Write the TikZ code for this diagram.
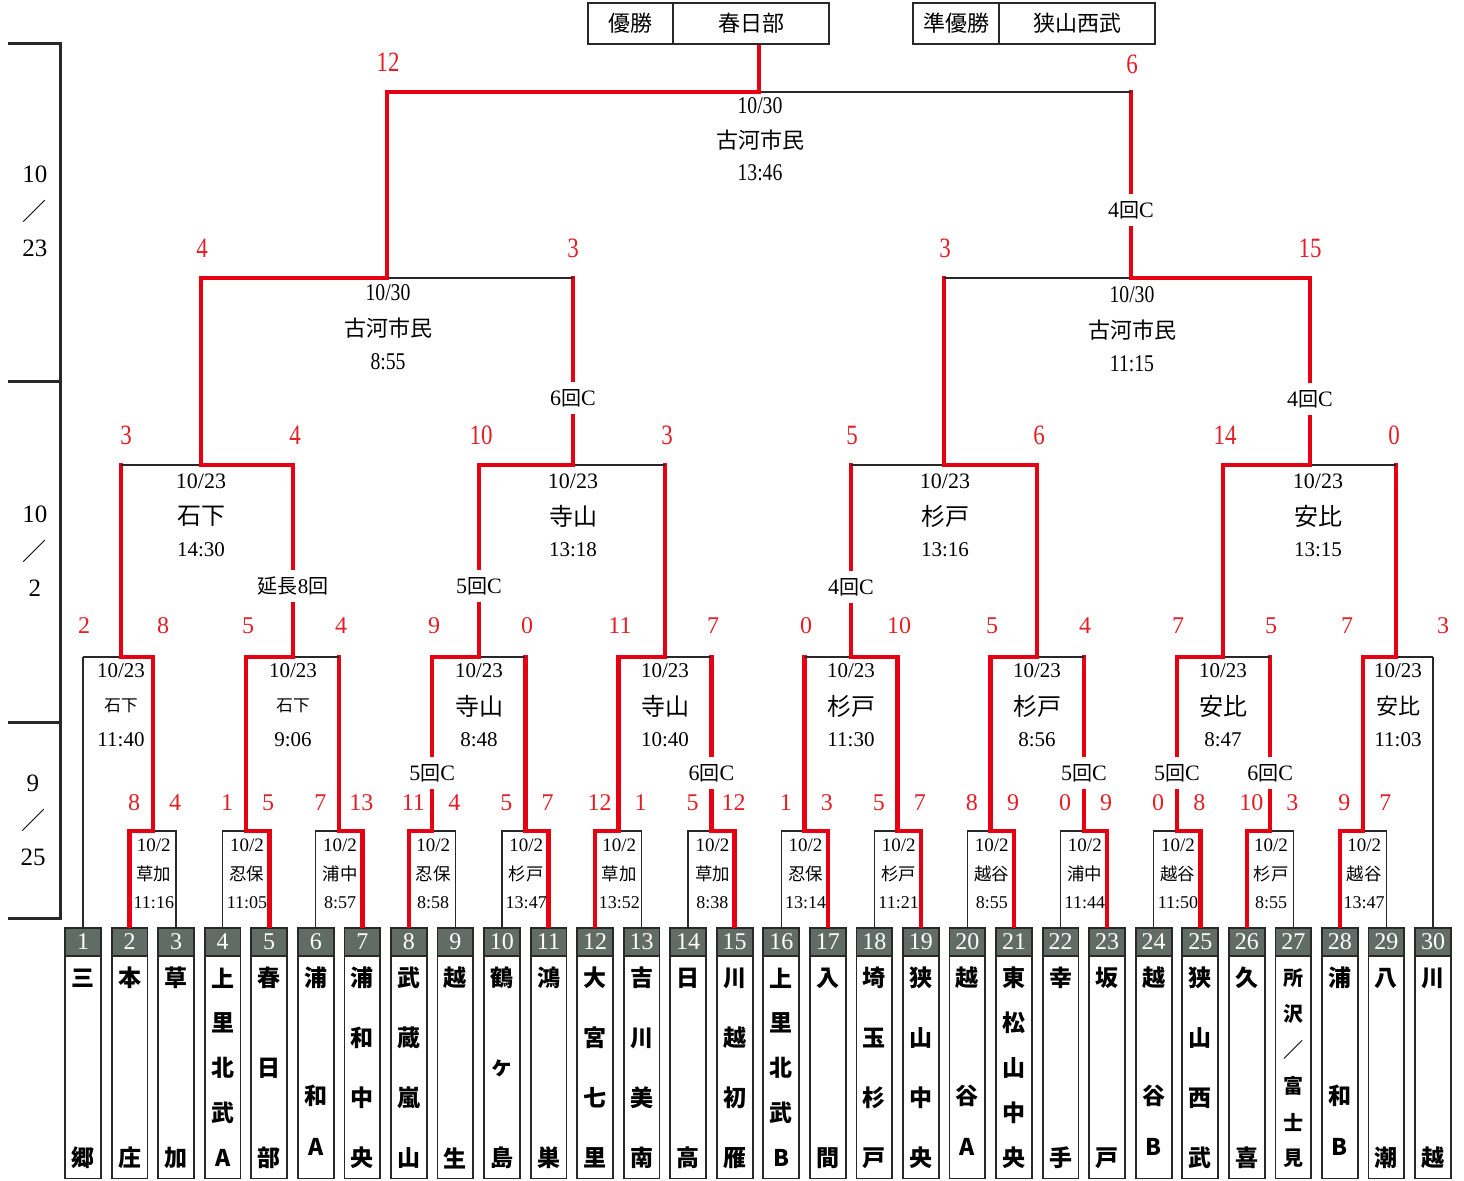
\documentclass[tikz,border=0pt]{standalone}
\usepackage{fontspec}
\setmainfont{Liberation Serif}
\newfontfamily\jp{Noto Sans CJK JP}
\newfontfamily\cond{Liberation Serif}[FakeStretch=0.82]
\definecolor{lred}{RGB}{230,0,18}
\definecolor{sred}{RGB}{228,30,38}
\definecolor{hgray}{RGB}{98,108,103}
\definecolor{bline}{RGB}{40,40,40}
\newcommand\kai{{\jp\fontsize{10}{10}\selectfont 回}}
\begin{document}
\begin{tikzpicture}[x=0.5pt,y=-0.5pt,
  bl/.style={draw=bline, line width=0.7pt},
  wl/.style={draw=lred, line width=2.3pt, line cap=rect, line join=miter},
  tbox/.style={minimum width=17.5pt, minimum height=125pt, inner sep=0pt},
  boxline/.style={draw=bline, line width=0.9pt},
  hnum/.style={text=white, inner sep=0pt, font=\fontsize{12}{12}\selectfont},
  tname/.style={inner sep=0pt, font=\jp\bfseries\fontsize{11.5}{12}\selectfont},
  sc/.style={text=sred, inner sep=0pt, font=\fontsize{12}{12}\selectfont},
  sct/.style={text=sred, inner sep=0pt, font=\cond\fontsize{14}{14}\selectfont},
  dA/.style={inner sep=0pt, font=\fontsize{9.5}{10}\selectfont},
  vA/.style={inner sep=0pt, font=\jp\fontsize{8.7}{9}\selectfont},
  tA/.style={inner sep=0pt, font=\fontsize{9}{9}\selectfont},
  dB/.style={inner sep=0pt, font=\fontsize{10.5}{11}\selectfont},
  dC/.style={inner sep=0pt, font=\cond\fontsize{12}{12}\selectfont},
  vC/.style={inner sep=0pt, font=\jp\fontsize{11}{11}\selectfont},
  gapl/.style={fill=white, inner xsep=1pt, inner ysep=3.5pt, font=\fontsize{11}{11}\selectfont},
  side/.style={inner sep=0pt, font=\fontsize{12.5}{13}\selectfont},
  topb/.style={draw=bline, line width=0.9pt, fill=white, minimum height=20.5pt, inner sep=0pt, font=\jp\fontsize{11}{11}\selectfont}
]
\useasboundingbox (0,0) rectangle (1464,1180);
\fill[white] (0,0) rectangle (1464,1180);

% ---------- left date bracket ----------
\draw[line width=1.5pt, draw=bline] (8,43) -- (60,43) -- (60,918) -- (8,918);
\draw[line width=1.5pt, draw=bline] (8,381) -- (60,381);
\draw[line width=1.5pt, draw=bline] (8,722) -- (60,722);
\node[side] (la1) at (35,174) {10};
\node[side,font=\jp\fontsize{12}{12}\selectfont] (la2) at (34,211) {／};
\node[side] (la3) at (35,248) {23};
\node[side] (lb1) at (35,514) {10};
\node[side,font=\jp\fontsize{12}{12}\selectfont] (lb2) at (34,551) {／};
\node[side] (lb3) at (35,588) {2};
\node[side] (lc1) at (33,783) {9};
\node[side,font=\jp\fontsize{12}{12}\selectfont] (lc2) at (33,820) {／};
\node[side] (lc3) at (33,857) {25};

% ---------- team boxes ----------
\foreach \i in {1,...,30} {
  \pgfmathsetmacro\x{83+(\i-1)*46.552}
  \node[tbox] (t\i) at (\x,1053) {};
  \fill[hgray] (t\i.north west) rectangle ([yshift=-14pt]t\i.north east);
  \draw[boxline] (t\i.north west) rectangle (t\i.south east);
  \draw[boxline] ([yshift=-14pt]t\i.north west) -- ([yshift=-14pt]t\i.north east);
  \node[hnum] (h\i) at ([yshift=-7pt]t\i.north) {\i};
}
\foreach \i/\n/\chars in {1/2/{三,郷}, 2/2/{本,庄}, 3/2/{草,加}, 4/5/{上,里,北,武,A}, 5/3/{春,日,部},
  6/0/{浦,和,A}, 7/4/{浦,和,中,央}, 8/4/{武,蔵,嵐,山}, 9/2/{越,生}, 10/3/{鶴,ヶ,島},
  11/2/{鴻,巣}, 12/4/{大,宮,七,里}, 13/4/{吉,川,美,南}, 14/2/{日,高}, 15/4/{川,越,初,雁},
  16/5/{上,里,北,武,B}, 17/2/{入,間}, 18/4/{埼,玉,杉,戸}, 19/4/{狭,山,中,央}, 20/0/{越,谷,A},
  21/5/{東,松,山,中,央}, 22/2/{幸,手}, 23/2/{坂,戸}, 24/0/{越,谷,B}, 25/4/{狭,山,西,武},
  26/2/{久,喜}, 27/6/{所,沢,／,富,士,見}, 28/0/{浦,和,B}, 29/2/{八,潮}, 30/2/{川,越}} {
  \foreach \c [count=\k] in \chars {
    \pgfmathsetmacro\yy{\n==0 ? (\k==1 ? 978 : (\k==2 ? 1096 : 1147)) : 978+(\k-1)*180/(\n-1)}
    \node[tname] (c\i-\k) at (t\i.north |- 0,\yy) {\ifnum\i=27 \fontsize{10}{10}\selectfont\fi\c};
  }
}

% ---------- round 1 (10/2) ----------
\foreach \a/\w/\sl/\sr/\ven/\tim in {
  2/0/8/4/草加/11:16, 4/1/1/5/忍保/11:05, 6/1/7/13/浦中/8:57, 8/0/11/4/忍保/8:58,
  10/1/5/7/杉戸/13:47, 12/0/12/1/草加/13:52, 14/1/5/12/草加/8:38, 16/1/1/3/忍保/13:14,
  18/1/5/7/杉戸/11:21, 20/1/8/9/越谷/8:55, 22/1/0/9/浦中/11:44, 24/1/0/8/越谷/11:50,
  26/0/10/3/杉戸/8:55, 28/0/9/7/越谷/13:47} {
  \pgfmathtruncatemacro\b{\a+1}
  \pgfmathtruncatemacro\wi{\a+\w}
  \pgfmathsetmacro\xl{83+(\a-1)*46.552}
  \pgfmathsetmacro\xr{\xl+46.552}
  \pgfmathsetmacro\xm{\xl+23.276}
  \draw[bl] (t\a.north) -- (t\a.north |- 0,831) -- (t\b.north |- 0,831) -- (t\b.north);
  \draw[wl] ([yshift=1.2pt]t\wi.north) -- (t\wi.north |- 0,831) -- (\xm,831) -- (\xm,657);
  \node[sc] (s1l-\a) at (\xl+4.5,803) {\sl};
  \node[sc] (s1r-\a) at (\xr-1,803) {\sr};
  \node[dA] (i1d-\a) at (\xm+1,845) {10/2};
  \node[vA] (i1v-\a) at (\xm+1,874) {\ven};
  \node[tA] (i1t-\a) at (\xm+1,903) {\tim};
}
% byes
\draw[bl] (t1.north) -- (t1.north |- 0,657);
\draw[bl] (t30.north) -- (t30.north |- 0,657);

% ---------- round 2 ----------
\foreach \xl/\xr/\xu/\w in {83/152.83/121/1, 245.93/339.03/293/0, 432.14/525.24/479/0,
  618.35/711.45/665/0, 804.56/897.66/851/1, 990.76/1083.87/1037/0, 1176.97/1270.08/1223/0,
  1363.18/1433/1396/0} {
  \pgfmathsetmacro\xw{\w==0 ? \xl : \xr}
  \draw[bl] (\xl,657) -- (\xr,657);
  \draw[wl] (\xw,657) -- (\xu,657) -- (\xu,465);
}
\foreach \x/\s [count=\k] in {84/2,163/8,248/5,341/4,434/9,527/0,620/11,713/7,806/0,899/10,
  992/5,1085/4,1178/7,1271/5,1347/7,1443/3}
  \node[sc] (s2-\k) at (\x,626) {\s};
\foreach \x/\ven/\tim/\vs [count=\k] in {121/石下/11:40/8.3, 293/石下/9:06/8.3, 479/寺山/8:48/12,
  665/寺山/10:40/12, 851/杉戸/11:30/12, 1037/杉戸/8:56/12, 1223/安比/8:47/12, 1398/安比/11:03/11} {
  \node[dB] (i2d-\k) at (\x,671) {10/23};
  \node[inner sep=0pt, font=\jp\fontsize{\vs}{\vs}\selectfont] (i2v-\k) at (\x,706) {\ven};
  \node[dB] (i2t-\k) at (\x,740) {\tim};
}

% ---------- round 3 ----------
\foreach \xl/\xr/\xu/\w in {121/293/201/1, 479/665/573/0, 851/1037/944/1, 1223/1396/1310/0} {
  \pgfmathsetmacro\xw{\w==0 ? \xl : \xr}
  \draw[bl] (\xl,465) -- (\xr,465);
  \draw[wl] (\xw,465) -- (\xu,465) -- (\xu,278);
}
\foreach \x/\s [count=\k] in {126/3,295/4,481/10,667/3,852/5,1039/6,1225/14,1394/0}
  \node[sct] (s3-\k) at (\x,435) {\s};
\foreach \x/\ven/\tim [count=\k] in {201/石下/14:30, 573/寺山/13:18, 945/杉戸/13:16, 1318/安比/13:15} {
  \node[dB,font=\fontsize{11}{11}\selectfont] (i3d-\k) at (\x,481) {10/23};
  \node[inner sep=0pt, font=\jp\fontsize{12}{12}\selectfont] (i3v-\k) at (\x,516) {\ven};
  \node[dB] (i3t-\k) at (\x,550) {\tim};
}

% ---------- round 4 ----------
\foreach \xl/\xr/\xu/\w in {201/573/387/0, 944/1310/1131/1} {
  \pgfmathsetmacro\xw{\w==0 ? \xl : \xr}
  \draw[bl] (\xl,278) -- (\xr,278);
  \draw[wl] (\xw,278) -- (\xu,278) -- (\xu,92);
}
\foreach \x/\s [count=\k] in {202/4,573/3,945/3,1310/15}
  \node[sct] (s4-\k) at (\x,248) {\s};
\node[dC] (i4d-1) at (388,293) {10/30};
\node[vC] (i4v-1) at (388,328) {古河市民};
\node[dC] (i4t-1) at (388,362) {8:55};
\node[dC] (i4d-2) at (1132,295) {10/30};
\node[vC] (i4v-2) at (1132,330) {古河市民};
\node[dC] (i4t-2) at (1132,364) {11:15};

% ---------- final ----------
\draw[bl] (387,92) -- (1131,92);
\draw[wl] (387,92) -- (759,92) -- (759,46);
\node[sct] (s5-1) at (388,62) {12};
\node[sct] (s5-2) at (1132,64) {6};
\node[dC] (i5d) at (760,106) {10/30};
\node[vC] (i5v) at (760,140) {古河市民};
\node[dC] (i5t) at (760,173) {13:46};

% ---------- gap labels ----------
\foreach \x/\d [count=\k] in {432.14/5, 711.45/6, 1083.87/5, 1176.97/5, 1270.08/6}
  \node[gapl] (g1-\k) at (\x,773) {\d\kai C};
\node[gapl,font=\jp\fontsize{10}{10}\selectfont] (g2-1) at (293,586) {延長{\rmfamily\fontsize{10.5}{10.5}\selectfont 8}回};
\node[gapl] (g2-2) at (479,586) {5\kai C};
\node[gapl] (g2-3) at (851,587) {4\kai C};
\node[gapl] (g3-1) at (573,398) {6\kai C};
\node[gapl] (g3-2) at (1310,399) {4\kai C};
\node[gapl] (g5-1) at (1131,210) {4\kai C};

% ---------- champion boxes ----------
\node[topb, minimum width=42.5pt] (win1) at (630.5,23.5) {優勝};
\node[topb, minimum width=78pt] (win2) at (751,23.5) {春日部};
\node[topb, minimum width=43pt] (run1) at (956,23.5) {準優勝};
\node[topb, minimum width=78pt] (run2) at (1077,23.5) {狭山西武};
\end{tikzpicture}
\end{document}
